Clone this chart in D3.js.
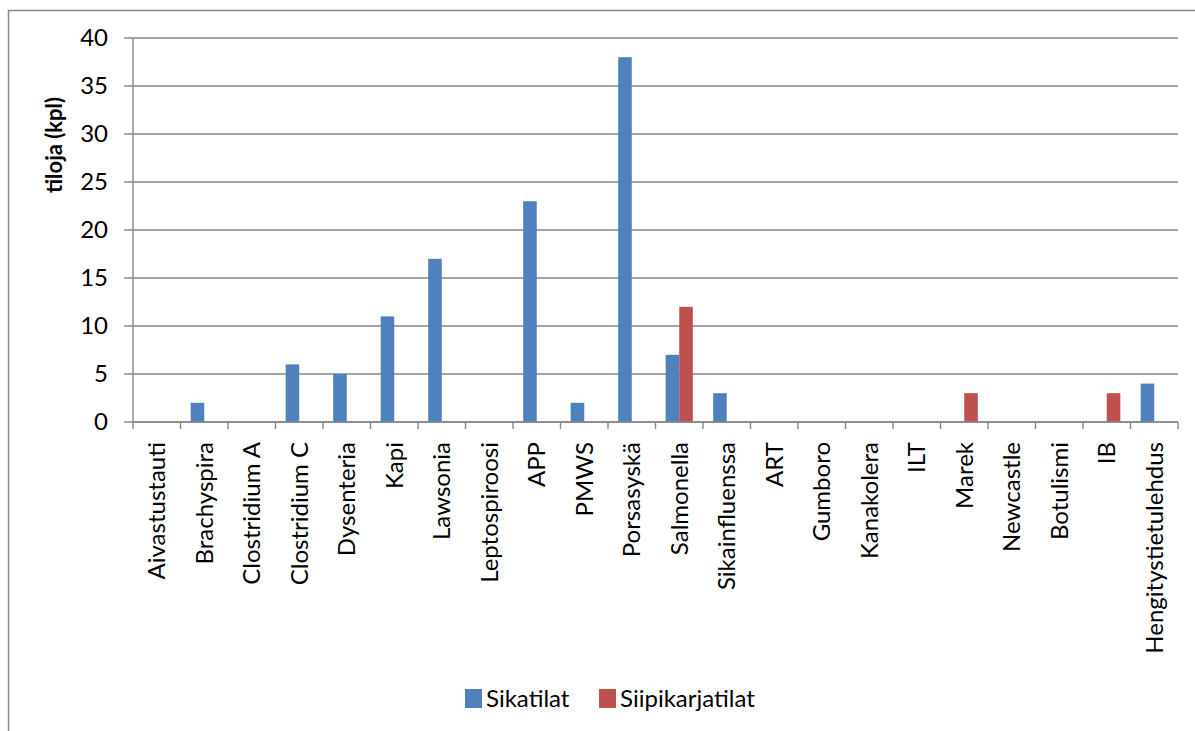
<!DOCTYPE html>
<html>
<head>
<meta charset="utf-8">
<script src="https://cdn.jsdelivr.net/npm/d3@7"></script>
<style>
  body { margin: 0; background: #fff; }
  svg { font-family: Lato, "Open Sans", sans-serif; }
</style>
</head>
<body>
<div id="chart"></div>
<script>
const categories = ['Aivastustauti', 'Brachyspira', 'Clostridium A', 'Clostridium C', 'Dysenteria',
  'Kapi', 'Lawsonia', 'Leptospiroosi', 'APP', 'PMWS', 'Porsasyskä', 'Salmonella', 'Sikainfluenssa',
  'ART', 'Gumboro', 'Kanakolera', 'ILT', 'Marek', 'Newcastle', 'Botulismi', 'IB', 'Hengitystietulehdus']
const seriesNames = ['Sikatilat', 'Siipikarjatilat']
const sikatilat = [0, 2, 0, 6, 5, 11, 17, 0, 23, 2, 38, 7, 3, 0, 0, 0, 0, 0, 0, 0, 0, 4]
const siipikarjatilat = [0, 0, 0, 0, 0, 0, 0, 0, 0, 0, 0, 12, 0, 0, 0, 0, 0, 3, 0, 0, 3, 0]
const yTicks = [0, 5, 10, 15, 20, 25, 30, 35, 40]
const colors = ['#4f81bd', '#c0504d']

const width = 1195
const height = 731
const plot = { left: 133, right: 1178, top: 38, bottom: 422 }
const fontSize = 24
const grey = '#878787'

const svg = d3.select('#chart').append('svg')
  .attr('width', width)
  .attr('height', height)

// chart area border
svg.append('rect')
  .attr('x', 8.5).attr('y', 10.5)
  .attr('width', width + 20).attr('height', height + 20)
  .attr('fill', 'none')
  .attr('stroke', grey)
  .attr('stroke-width', 1.5)

const x0 = d3.scaleBand().domain(categories).range([plot.left, plot.right])
const x1 = d3.scaleBand().domain(seriesNames).range([0, x0.bandwidth()]).paddingOuter(0.75)
const y = d3.scaleLinear().domain([0, 40]).range([plot.bottom, plot.top])

// gridlines + y ticks
const yAxis = svg.append('g')
yAxis.selectAll('line')
  .data(yTicks)
  .enter().append('line')
    .attr('x1', plot.left - 9)
    .attr('x2', plot.right)
    .attr('y1', d => y(d))
    .attr('y2', d => y(d))
    .attr('stroke', grey)
    .attr('stroke-width', 1.4)

yAxis.selectAll('text')
  .data(yTicks)
  .enter().append('text')
    .attr('x', 108)
    .attr('y', d => y(d))
    .attr('dy', '0.35em')
    .attr('text-anchor', 'end')
    .style('font-size', fontSize + 'px')
    .attr('fill', '#000')
    .text(d => d)

// bars
const rows = categories.map((c, i) => ({ cat: c, vals: [sikatilat[i], siipikarjatilat[i]] }))
const groups = svg.append('g').selectAll('g')
  .data(rows)
  .enter().append('g')
    .attr('transform', d => `translate(${x0(d.cat)},0)`)

groups.selectAll('rect')
  .data(d => d.vals.map((v, j) => ({ name: seriesNames[j], v, j })).filter(e => e.v > 0))
  .enter().append('rect')
    .attr('x', d => x1(d.name))
    .attr('width', x1.bandwidth())
    .attr('y', d => y(d.v))
    .attr('height', d => y(0) - y(d.v))
    .attr('fill', d => colors[d.j])

// axis lines
svg.append('line')
  .attr('x1', plot.left).attr('x2', plot.left)
  .attr('y1', plot.top).attr('y2', plot.bottom)
  .attr('stroke', grey).attr('stroke-width', 1.4)

svg.append('line')
  .attr('x1', plot.left).attr('x2', plot.right)
  .attr('y1', plot.bottom).attr('y2', plot.bottom)
  .attr('stroke', grey).attr('stroke-width', 1.6)

const boundaries = categories.map(c => x0(c)).concat([plot.right])
svg.append('g').selectAll('line')
  .data(boundaries)
  .enter().append('line')
    .attr('x1', d => d).attr('x2', d => d)
    .attr('y1', plot.bottom).attr('y2', plot.bottom + 7)
    .attr('stroke', grey).attr('stroke-width', 1.4)

// category labels
svg.append('g').selectAll('text')
  .data(categories)
  .enter().append('text')
    .attr('transform', d => `translate(${x0(d) + x0.bandwidth() / 2},442) rotate(-90)`)
    .attr('dy', '0.35em')
    .attr('text-anchor', 'end')
    .style('font-size', fontSize + 'px')
    .text(d => d)

// y axis title
svg.append('text')
  .attr('transform', 'translate(54,145) rotate(-90)')
  .attr('dy', '0.35em')
  .attr('text-anchor', 'middle')
  .style('font-size', '22px')
  .style('font-weight', 'bold')
  .text('tiloja (kpl)')

// legend
const legendX = [465, 599]
const legend = svg.append('g').selectAll('g')
  .data(seriesNames)
  .enter().append('g')
    .attr('transform', (d, i) => `translate(${legendX[i]},689)`)
legend.append('rect')
  .attr('width', 17).attr('height', 19)
  .attr('fill', (d, i) => colors[i])
legend.append('text')
  .attr('x', 21).attr('y', 10)
  .attr('dy', '0.35em')
  .style('font-size', fontSize + 'px')
  .text(d => d)
</script>
</body>
</html>
